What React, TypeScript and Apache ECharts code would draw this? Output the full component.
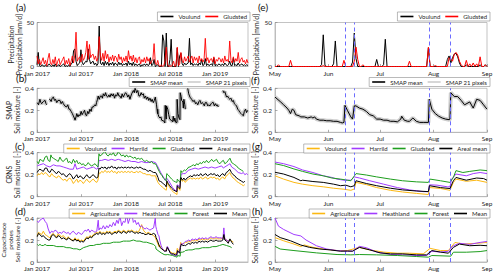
import React, { useEffect, useRef } from 'react';
import * as echarts from 'echarts';

const FONT = 'Lato, "Noto Sans", "DejaVu Sans", sans-serif';

// ---------- axes ----------
const leftTickDays = [0, 181, 365, 546, 730]; // days since 2017-01-01
const leftTickLabels = ['Jan 2017', 'Jul 2017', 'Jan 2018', 'Jul 2018', 'Jan 2019'];
const leftMaxDay = 865;
const rightTickDays = [0, 31, 61, 92, 123]; // days since 2018-05-01
const rightTickLabels = ['May', 'Jun', 'Jul', 'Aug', 'Sep'];
const rightMaxDay = 123;
const eventDays = [40.5, 46, 89.5, 101.5];

// ---------- (a) precipitation, 5-day samples from 2017-01-01 ----------
const precipStep = 5;
const aVoulund = [
  2, 16, 1, 0, 2, 1, 0, 2, 0, 1,
  3, 1, 0, 2, 0, 3, 0, 1, 2, 0,
  1, 2, 3, 0, 1, 0, 2, 0, 3, 4,
  18, 20, 6, 1, 3, 4, 19, 5, 2, 4,
  6, 5, 20, 8, 3, 5, 6, 2, 4, 1,
  3, 46, 4, 2, 5, 1, 6, 2, 5, 1,
  4, 2, 5, 1, 4, 3, 1, 5, 2, 4,
  1, 3, 2, 4, 1, 6, 2, 4, 1, 5,
  1, 3, 1, 2, 3, 0, 2, 1, 3, 1,
  3, 1, 2, 10, 1, 2, 8, 0, 1, 2,
  0, 0, 0, 36, 29, 0, 38, 0, 0, 8,
  31, 0, 0, 0, 0, 21, 0, 12, 15, 3,
  1, 4, 2, 3, 4, 32, 2, 4, 1, 3,
  2, 3, 1, 4, 2, 8, 1, 2, 9, 1,
  3, 1, 2, 3, 1, 10, 1, 2, 1, 3,
  2, 1, 3, 1, 4, 2, 1, 2, 6, 1,
  1, 10, 1, 2, 1, 4, 1, 2, 3, 1,
  2, 1, 2, 1,
];
const aGludsted = [
  12, 3, 8, 2, 6, 10, 3, 7, 1, 9,
  15, 4, 2, 8, 3, 11, 1, 6, 9, 2,
  5, 8, 11, 2, 7, 3, 9, 1, 6, 12,
  4, 13, 39, 6, 9, 11, 5, 14, 7, 10,
  16, 29, 8, 25, 10, 13, 14, 8, 12, 6,
  10, 34, 12, 7, 15, 6, 18, 9, 14, 5,
  11, 7, 13, 6, 12, 10, 5, 14, 8, 11,
  4, 10, 6, 12, 5, 18, 8, 12, 6, 13,
  5, 10, 4, 9, 11, 3, 8, 5, 10, 4,
  11, 6, 9, 3, 6, 8, 26, 4, 2, 7,
  1, 0, 2, 0, 1, 7, 22, 2, 0, 1,
  0, 2, 6, 0, 1, 22, 1, 3, 16, 7,
  4, 11, 6, 9, 12, 5, 9, 12, 4, 11,
  7, 10, 4, 12, 6, 9, 5, 8, 32, 6,
  10, 4, 8, 9, 5, 11, 3, 8, 6, 10,
  9, 5, 9, 4, 12, 6, 8, 5, 29, 7,
  4, 11, 5, 9, 6, 16, 4, 8, 10, 5,
  7, 3, 8, 4,
];

// ---------- (b) SMAP mean, [day since 2017-01-01, value] ----------
const bSmapMean: [number, number | null][] = [
  [1, 0.27], [6, 0.25], [12, 0.3], [16, 0.27], [19, 0.26], [26, 0.28], [33, 0.29], [37, 0.26], [40, 0.25], [44, null],
  [50, 0.3], [53, 0.3], [58, 0.28], [62, 0.31], [67, 0.32], [72, 0.29], [76, 0.3], [81, 0.27], [86, 0.29], [94, 0.29],
  [99, 0.26], [104, 0.28], [108, 0.26], [114, 0.24], [121, 0.23], [126, 0.25], [131, 0.21], [135, 0.21], [140, 0.19], [145, 0.17],
  [149, 0.15], [153, 0.13], [156, 0.11], [160, 0.14], [163, 0.17], [168, 0.14], [172, 0.16], [176, 0.15], [181, 0.19], [185, 0.16],
  [190, 0.18], [195, 0.2], [199, 0.16], [203, 0.15], [208, 0.19], [212, 0.17], [217, 0.21], [222, 0.19], [226, 0.23], [231, 0.23],
  [237, 0.25], [241, 0.24], [244, 0.27], [248, 0.3], [251, 0.33], [255, 0.3], [260, 0.33], [265, 0.33], [268, 0.31], [272, 0.35],
  [277, 0.33], [281, 0.36], [285, 0.33], [290, 0.32], [295, 0.34], [299, 0.32], [304, 0.35], [309, 0.33], [313, 0.35], [318, 0.31],
  [322, 0.34], [327, 0.33], [331, 0.36], [336, 0.33], [340, 0.33], [345, 0.31], [349, 0.35], [354, 0.32], [358, 0.34], [363, 0.36],
  [367, 0.35], [372, 0.32], [376, 0.34], [381, 0.3], [385, 0.33], [388, 0.35], [395, 0.38], [399, 0.36], [402, 0.4], [406, 0.38],
  [408, 0.36], [413, 0.38], [418, 0.33], [422, 0.33], [427, 0.36], [431, 0.34], [436, 0.35], [440, 0.31], [445, 0.33], [449, 0.3],
  [454, 0.32], [458, 0.29], [463, 0.31], [468, 0.28], [472, 0.3], [477, 0.27], [481, 0.29], [485, 0.32], [490, 0.25], [494, 0.17],
  [495, 0.21], [497, 0.16], [500, 0.14], [504, 0.13], [508, 0.14], [511, 0.11], [517, 0.105], [521, 0.1], [524, 0.085], [525.6, 0.245],
  [529, 0.14], [530, 0.12], [531, 0.24], [536, 0.21], [540, 0.16], [544, 0.12], [550, 0.11], [556, 0.095], [558.5, 0.146], [562, 0.1],
  [565, 0.13], [569, 0.09], [574, 0.09], [574.5, 0.3], [578, 0.17], [582, 0.13], [586, 0.115], [587, 0.36], [591, 0.325], [593, 0.29],
  [598, 0.276], [600, 0.22], [602, 0.3], [606, 0.25], [608, 0.21], [611, null], [618, 0.4], [622, 0.35], [627, 0.32], [634, 0.3],
  [639, 0.28], [645, 0.29], [650, 0.26], [654, 0.27], [659, 0.25], [664, 0.28], [668, 0.29], [673, 0.26], [677, 0.27], [682, 0.26],
  [686, 0.24], [690, 0.27], [695, 0.27], [700, 0.24], [704, 0.25], [709, 0.24], [714, 0.26], [718, 0.27], [723, 0.27], [727, 0.24],
  [732, 0.26], [736, 0.24], [740, 0.25], [743, 0.23], [748, null], [762, 0.38], [766, 0.36], [770, 0.37], [777, 0.32], [781, 0.33],
  [786, 0.31], [791, 0.3], [795, 0.31], [800, 0.28], [805, 0.29], [809, 0.26], [814, 0.25], [818, 0.24], [823, 0.21], [827, 0.2],
  [832, 0.18], [837, 0.17], [841, 0.16], [846, 0.15], [850, 0.19], [855, 0.21], [859, 0.18], [864, 0.2],
];

// ---------- (c) CRNS ----------
const cVoulund: [number, number][] = [
  [1, 0.19], [6, 0.21], [12, 0.2], [19, 0.22], [26, 0.2], [33, 0.22], [40, 0.21], [46, 0.19], [53, 0.18], [60, 0.21],
  [67, 0.19], [74, 0.18], [81, 0.17], [87, 0.19], [94, 0.18], [101, 0.16], [108, 0.15], [115, 0.16], [122, 0.14], [128, 0.16],
  [135, 0.17], [142, 0.15], [149, 0.12], [156, 0.14], [163, 0.16], [169, 0.13], [176, 0.15], [183, 0.14], [190, 0.12], [197, 0.14],
  [204, 0.16], [210, 0.14], [217, 0.13], [224, 0.15], [231, 0.16], [238, 0.14], [245, 0.13], [250, 0.15], [254, 0.22], [258, 0.21],
  [265, 0.23], [272, 0.22], [279, 0.24], [286, 0.22], [292, 0.23], [299, 0.22], [306, 0.24], [313, 0.22], [320, 0.23], [327, 0.21],
  [333, 0.23], [340, 0.22], [347, 0.23], [354, 0.22], [361, 0.23], [367, 0.22], [374, 0.23], [381, 0.22], [388, 0.23], [395, 0.22],
  [402, 0.22], [408, 0.23], [415, 0.22], [422, 0.23], [429, 0.22], [436, 0.21], [443, 0.21], [449, 0.2], [456, 0.2], [463, 0.2],
  [470, 0.19], [478, 0.19], [486, 0.19], [490, 0.16], [496, 0.13], [501, 0.114], [507, 0.1], [513, 0.09], [519, 0.077], [525, 0.068],
  [529, 0.058], [531, 0.07], [532, 0.13], [538, 0.11], [544, 0.083], [552, 0.058], [559, 0.043], [567, 0.03], [574, 0.02], [575, 0.083],
  [581, 0.075], [586, 0.058], [588, 0.13], [590, 0.16], [596, 0.14], [602, 0.15], [608, 0.13], [615, 0.15], [622, 0.16], [629, 0.17],
  [636, 0.16], [643, 0.17], [650, 0.16], [657, 0.17], [664, 0.16], [671, 0.18], [678, 0.16], [685, 0.17], [692, 0.18], [699, 0.16],
  [706, 0.17], [713, 0.18], [720, 0.17], [727, 0.18], [734, 0.16], [741, 0.17], [748, 0.15], [755, 0.17], [762, 0.18], [769, 0.16],
  [776, 0.19], [783, 0.2], [790, 0.22], [797, 0.19], [804, 0.17], [811, 0.16], [818, 0.14], [825, 0.13], [832, 0.12], [839, 0.11],
  [846, 0.1], [852, 0.11],
];
const cHarrild: [number, number][] = [
  [1, 0.28], [12, 0.29], [26, 0.3], [40, 0.28], [53, 0.27], [67, 0.29], [81, 0.28], [94, 0.28], [108, 0.27], [122, 0.26],
  [135, 0.25], [149, 0.25], [156, 0.3], [163, 0.25], [176, 0.26], [190, 0.27], [204, 0.25], [217, 0.26], [231, 0.27], [245, 0.25],
  [250, 0.26], [254, 0.33], [265, 0.33], [279, 0.34], [292, 0.33], [306, 0.34], [320, 0.33], [333, 0.34], [347, 0.33], [361, 0.32],
  [374, 0.33], [388, 0.32], [402, 0.32], [415, 0.31], [429, 0.32], [443, 0.31], [456, 0.31], [470, 0.32], [486, 0.31], [496, 0.27],
  [507, 0.22], [518, 0.18], [525, 0.15], [531, 0.17], [540, 0.145], [556, 0.083], [571, 0.046], [575, 0.108], [586, 0.09], [588, 0.16],
  [591, 0.206], [600, 0.21], [608, 0.21], [620, 0.24], [634, 0.25], [648, 0.26], [661, 0.25], [675, 0.26], [689, 0.27], [702, 0.26],
  [716, 0.27], [730, 0.26], [743, 0.27], [757, 0.28], [764, 0.26], [770, 0.27], [784, 0.29], [791, 0.3], [798, 0.27], [811, 0.25],
  [825, 0.22], [839, 0.21], [846, 0.22], [852, 0.2], [859, 0.21], [864, 0.2],
];
const cGludsted: [number, number][] = [
  [1, 0.32], [6, 0.3], [12, 0.34], [19, 0.33], [26, 0.32], [33, 0.36], [40, 0.37], [46, 0.33], [53, 0.32], [57, 0.38],
  [60, 0.36], [67, 0.35], [74, 0.34], [81, 0.33], [87, 0.32], [94, 0.36], [101, 0.33], [108, 0.32], [115, 0.34], [122, 0.35],
  [128, 0.31], [135, 0.32], [142, 0.3], [149, 0.34], [156, 0.31], [163, 0.33], [169, 0.3], [176, 0.31], [183, 0.29], [190, 0.3],
  [197, 0.28], [204, 0.29], [210, 0.31], [217, 0.29], [224, 0.28], [231, 0.29], [238, 0.3], [245, 0.28], [250, 0.27], [254, 0.39],
  [258, 0.37], [265, 0.38], [272, 0.4], [279, 0.41], [286, 0.38], [292, 0.37], [299, 0.39], [306, 0.38], [313, 0.4], [320, 0.37],
  [327, 0.38], [333, 0.41], [340, 0.39], [347, 0.37], [354, 0.38], [361, 0.36], [367, 0.38], [374, 0.36], [381, 0.37], [388, 0.36],
  [395, 0.35], [402, 0.36], [408, 0.34], [415, 0.35], [422, 0.34], [429, 0.35], [436, 0.33], [443, 0.32], [449, 0.33], [456, 0.32],
  [463, 0.31], [470, 0.32], [477, 0.3], [485, 0.3], [490, 0.283], [496, 0.252], [501, 0.23], [507, 0.206], [513, 0.19], [518, 0.17],
  [523, 0.16], [527, 0.15], [529, 0.145], [532, 0.21], [538, 0.197], [544, 0.18], [552, 0.16], [559, 0.145], [567, 0.135], [574, 0.13],
  [575, 0.16], [581, 0.145], [586.5, 0.13], [588.5, 0.175], [590, 0.237], [594, 0.22], [598, 0.23], [604, 0.243], [608, 0.237], [615, 0.25],
  [622, 0.27], [627, 0.27], [634, 0.28], [641, 0.29], [648, 0.28], [654, 0.3], [661, 0.29], [668, 0.31], [675, 0.3], [682, 0.32],
  [689, 0.31], [695, 0.33], [702, 0.31], [709, 0.32], [716, 0.34], [723, 0.32], [730, 0.33], [736, 0.34], [743, 0.31], [750, 0.3],
  [757, 0.32], [764, 0.33], [770, 0.3], [777, 0.31], [784, 0.33], [791, 0.35], [798, 0.31], [805, 0.3], [811, 0.29], [818, 0.28],
  [825, 0.26], [832, 0.25], [839, 0.24], [846, 0.23],
];
const cArealMean: [number, number][] = [
  [1, 0.22], [6, 0.24], [12, 0.25], [19, 0.24], [26, 0.23], [33, 0.26], [40, 0.26], [46, 0.23], [53, 0.22], [60, 0.25],
  [67, 0.24], [74, 0.22], [81, 0.21], [87, 0.23], [94, 0.22], [101, 0.2], [108, 0.21], [115, 0.19], [122, 0.18], [128, 0.2],
  [135, 0.21], [142, 0.19], [149, 0.16], [156, 0.18], [163, 0.2], [169, 0.17], [176, 0.19], [183, 0.18], [190, 0.16], [197, 0.18],
  [204, 0.2], [210, 0.18], [217, 0.17], [224, 0.19], [231, 0.2], [238, 0.18], [245, 0.17], [250, 0.18], [254, 0.26], [258, 0.25],
  [265, 0.27], [272, 0.26], [279, 0.27], [286, 0.25], [292, 0.27], [299, 0.26], [306, 0.28], [313, 0.26], [320, 0.27], [327, 0.25],
  [333, 0.27], [340, 0.26], [347, 0.27], [354, 0.26], [361, 0.27], [367, 0.26], [374, 0.27], [381, 0.26], [388, 0.27], [395, 0.26],
  [402, 0.26], [408, 0.27], [415, 0.26], [422, 0.27], [429, 0.26], [436, 0.25], [443, 0.25], [449, 0.24], [456, 0.23], [463, 0.24],
  [470, 0.23], [478, 0.22], [486, 0.22], [490, 0.206], [496, 0.175], [500, 0.145], [507, 0.138], [513, 0.13], [519, 0.114], [526, 0.105],
  [529, 0.09], [531, 0.1], [532, 0.145], [538, 0.12], [544, 0.1], [552, 0.077], [559, 0.062], [567, 0.052], [574, 0.046], [575, 0.1],
  [581, 0.083], [586, 0.074], [588, 0.145], [590, 0.175], [596, 0.15], [602, 0.17], [608, 0.15], [615, 0.17], [622, 0.18], [629, 0.19],
  [636, 0.18], [643, 0.2], [650, 0.19], [657, 0.2], [664, 0.19], [671, 0.21], [678, 0.19], [685, 0.2], [692, 0.21], [699, 0.19],
  [706, 0.2], [713, 0.21], [720, 0.2], [727, 0.21], [734, 0.19], [741, 0.2], [748, 0.18], [755, 0.2], [762, 0.21], [769, 0.19],
  [776, 0.22], [783, 0.23], [790, 0.25], [797, 0.22], [804, 0.2], [811, 0.19], [818, 0.17], [825, 0.16], [832, 0.15], [839, 0.14],
  [846, 0.13], [852, 0.14],
];

// ---------- (d) capacitance probes ----------
const dAgriculture: [number, number][] = [
  [1, 0.24], [6, 0.27], [12, 0.26], [19, 0.25], [26, 0.28], [33, 0.25], [40, 0.24], [46, 0.23], [53, 0.22], [60, 0.25],
  [67, 0.26], [74, 0.24], [81, 0.23], [87, 0.26], [94, 0.24], [101, 0.23], [108, 0.24], [115, 0.22], [122, 0.21], [128, 0.23],
  [135, 0.21], [142, 0.2], [149, 0.2], [156, 0.22], [163, 0.2], [169, 0.21], [176, 0.19], [183, 0.2], [190, 0.19], [197, 0.21],
  [204, 0.23], [210, 0.22], [217, 0.24], [224, 0.23], [231, 0.25], [238, 0.26], [245, 0.27], [251, 0.26], [258, 0.28], [265, 0.26],
  [272, 0.27], [279, 0.26], [286, 0.28], [292, 0.27], [299, 0.28], [306, 0.26], [313, 0.27], [320, 0.28], [327, 0.27], [333, 0.29],
  [340, 0.28], [347, 0.27], [354, 0.29], [361, 0.28], [367, 0.27], [374, 0.29], [381, 0.28], [388, 0.29], [395, 0.28], [402, 0.27],
  [408, 0.28], [415, 0.27], [422, 0.3], [429, 0.34], [436, 0.29], [443, 0.27], [449, 0.26], [456, 0.27], [463, 0.26], [470, 0.25],
  [478, 0.24], [485, 0.222], [490, 0.193], [496, 0.163], [500, 0.14], [502, 0.155], [507, 0.133], [513, 0.118], [521, 0.104], [527, 0.104],
  [534, 0.133], [540, 0.11], [548, 0.09], [556, 0.08], [563, 0.08], [571, 0.074], [575, 0.124], [581, 0.104], [585, 0.104], [589, 0.178],
  [594, 0.163], [602, 0.17], [608, 0.178], [615, 0.18], [622, 0.19], [629, 0.18], [636, 0.2], [643, 0.19], [650, 0.2], [657, 0.19],
  [664, 0.21], [671, 0.2], [678, 0.21], [685, 0.2], [692, 0.21], [699, 0.2], [706, 0.21], [713, 0.22], [720, 0.21], [727, 0.21],
  [734, 0.22], [741, 0.21], [748, 0.21], [755, 0.21], [762, 0.22], [766, 0.24], [770, 0.21], [777, 0.2], [784, 0.19], [791, 0.2],
  [798, 0.19], [805, 0.18],
];
const dHeathland: [number, number][] = [
  [1, 0.37], [6, 0.36], [12, 0.38], [19, 0.39], [26, 0.4], [33, 0.37], [40, 0.35], [46, 0.3], [53, 0.26], [60, 0.28],
  [67, 0.27], [74, 0.29], [81, 0.28], [87, 0.26], [94, 0.27], [101, 0.26], [108, 0.28], [115, 0.27], [122, 0.26], [128, 0.27],
  [135, 0.25], [142, 0.27], [149, 0.28], [156, 0.26], [163, 0.25], [169, 0.27], [176, 0.26], [183, 0.25], [190, 0.27], [197, 0.29],
  [204, 0.28], [210, 0.3], [217, 0.27], [224, 0.29], [231, 0.28], [238, 0.27], [245, 0.28], [251, 0.38], [254, 0.29], [258, 0.31],
  [265, 0.3], [272, 0.33], [279, 0.3], [286, 0.33], [292, 0.31], [299, 0.34], [306, 0.32], [313, 0.36], [320, 0.33], [327, 0.38],
  [333, 0.35], [340, 0.42], [347, 0.33], [354, 0.37], [361, 0.36], [367, 0.44], [374, 0.35], [381, 0.4], [388, 0.45], [395, 0.36],
  [402, 0.38], [408, 0.34], [415, 0.36], [422, 0.32], [429, 0.33], [436, 0.31], [443, 0.3], [449, 0.31], [456, 0.3], [463, 0.29],
  [470, 0.3], [478, 0.31], [485, 0.4], [487, 0.326], [490, 0.296], [496, 0.25], [500, 0.237], [503, 0.2], [509, 0.148], [515, 0.118],
  [521, 0.104], [527, 0.098], [530, 0.1], [534, 0.142], [538, 0.13], [544, 0.09], [552, 0.068], [559, 0.065], [567, 0.059], [573, 0.059],
  [576, 0.098], [581, 0.09], [585, 0.098], [588, 0.148], [592, 0.17], [598, 0.16], [604, 0.178], [608, 0.187], [615, 0.19], [622, 0.2],
  [629, 0.19], [636, 0.21], [643, 0.2], [650, 0.21], [657, 0.2], [664, 0.22], [671, 0.21], [678, 0.22], [685, 0.21], [692, 0.22],
  [699, 0.21], [706, 0.22], [713, 0.23], [720, 0.22], [727, 0.22], [734, 0.23], [741, 0.22], [748, 0.22], [755, 0.22], [762, 0.21],
  [766, 0.31], [770, 0.21], [777, 0.2], [784, 0.19], [791, 0.2],
];
const dForest: [number, number][] = [
  [1, 0.16], [6, 0.15], [12, 0.16], [19, 0.15], [26, 0.15], [33, 0.16], [40, 0.15], [53, 0.15], [67, 0.15], [81, 0.14],
  [94, 0.14], [108, 0.14], [122, 0.13], [135, 0.13], [149, 0.12], [163, 0.12], [176, 0.11], [190, 0.13], [204, 0.14], [217, 0.15],
  [231, 0.15], [245, 0.16], [258, 0.16], [272, 0.17], [286, 0.17], [299, 0.17], [313, 0.18], [327, 0.18], [340, 0.18], [354, 0.19],
  [367, 0.19], [381, 0.19], [395, 0.2], [408, 0.19], [422, 0.19], [436, 0.18], [449, 0.18], [463, 0.17], [478, 0.16], [486, 0.142],
  [488, 0.118], [496, 0.104], [509, 0.083], [521, 0.068], [529, 0.065], [534, 0.068], [544, 0.065], [556, 0.059], [567, 0.05], [574, 0.044],
  [576, 0.059], [587, 0.053], [588, 0.089], [596, 0.089], [604, 0.095], [608, 0.104], [622, 0.11], [636, 0.11], [650, 0.12], [664, 0.12],
  [678, 0.13], [692, 0.13], [706, 0.13], [720, 0.14], [734, 0.14], [748, 0.15], [762, 0.16], [777, 0.15], [791, 0.14], [798, 0.13],
];
const dMean: [number, number][] = [
  [1, 0.23], [6, 0.26], [12, 0.25], [19, 0.23], [26, 0.24], [33, 0.22], [40, 0.21], [46, 0.2], [53, 0.2], [60, 0.24],
  [67, 0.25], [74, 0.23], [81, 0.22], [87, 0.24], [94, 0.23], [101, 0.21], [108, 0.22], [115, 0.21], [122, 0.2], [128, 0.22],
  [135, 0.21], [142, 0.2], [149, 0.19], [156, 0.21], [163, 0.19], [169, 0.2], [176, 0.18], [183, 0.19], [190, 0.18], [197, 0.2],
  [204, 0.22], [210, 0.21], [217, 0.23], [224, 0.22], [231, 0.24], [238, 0.25], [245, 0.26], [251, 0.25], [258, 0.27], [265, 0.25],
  [272, 0.26], [279, 0.25], [286, 0.27], [292, 0.26], [299, 0.27], [306, 0.25], [313, 0.26], [320, 0.27], [327, 0.26], [333, 0.28],
  [340, 0.27], [347, 0.26], [354, 0.28], [361, 0.27], [367, 0.26], [374, 0.28], [381, 0.27], [388, 0.28], [395, 0.27], [402, 0.26],
  [408, 0.27], [415, 0.26], [422, 0.27], [429, 0.26], [436, 0.26], [443, 0.25], [449, 0.25], [456, 0.26], [463, 0.25], [470, 0.25],
  [478, 0.26], [485, 0.25], [488, 0.222], [494, 0.193], [500, 0.154], [505, 0.133], [511, 0.118], [517, 0.11], [523, 0.098], [527, 0.1],
  [530, 0.098], [534, 0.133], [540, 0.11], [546, 0.083], [552, 0.074], [559, 0.074], [567, 0.065], [573, 0.065], [576, 0.104], [581, 0.09],
  [585, 0.08], [588, 0.133], [592, 0.163], [598, 0.148], [604, 0.152], [608, 0.148], [615, 0.16], [622, 0.17], [629, 0.16], [636, 0.18],
  [643, 0.17], [650, 0.18], [657, 0.17], [664, 0.19], [671, 0.18], [678, 0.19], [685, 0.18], [692, 0.19], [699, 0.18], [706, 0.19],
  [713, 0.2], [720, 0.19], [727, 0.19], [734, 0.2], [741, 0.19], [748, 0.19], [755, 0.19], [762, 0.2], [766, 0.25], [770, 0.2],
  [777, 0.19], [784, 0.17], [791, 0.21], [798, 0.18], [805, 0.16],
];

// ---------- (e) precipitation, daily from 2018-05-01 ----------
const eVoulund = [
  0, 0, 0, 0, 0, 0, 0, 0, 0, 0,
  0, 0, 0, 0, 0, 0, 0, 0, 0, 0,
  0, 0, 0, 0, 0, 0, 0, 2, 36, 1,
  0, 0, 0, 0, 3, 29, 0, 0, 0, 0,
  0, 0, 0, 0, 0, 5, 38, 9, 0, 0,
  0, 0, 0, 0, 0, 0, 0, 0, 0, 8,
  0, 0, 0, 2, 31, 0, 0, 0, 0, 0,
  0, 0, 0, 0, 0, 0, 0, 0, 0, 0,
  0, 0, 0, 0, 0, 0, 0, 0, 0, 21,
  0, 0, 0, 0, 0, 0, 0, 0, 0, 0,
  8, 12, 4, 10, 14, 15, 11, 4, 0, 0,
  0, 2, 0, 0, 0, 0, 0, 0, 0, 2,
  0, 0, 2, 0,
];
const eGludsted = [
  0, 0, 2, 0, 0, 0, 0, 0, 0, 7,
  0, 0, 0, 0, 0, 0, 0, 0, 0, 0,
  0, 0, 0, 0, 0, 0, 0, 0, 1, 0,
  0, 0, 0, 0, 0, 0, 0, 0, 0, 0,
  7, 0, 0, 0, 0, 0, 6, 22, 8, 0,
  0, 2, 0, 0, 0, 0, 0, 0, 0, 0,
  0, 0, 0, 0, 0, 0, 0, 0, 0, 0,
  0, 0, 0, 0, 0, 0, 0, 0, 6, 0,
  0, 0, 0, 0, 0, 0, 0, 0, 0, 22,
  0, 0, 0, 1, 0, 0, 0, 0, 0, 0,
  0, 10, 8, 6, 14, 16, 13, 6, 2, 0,
  0, 7, 0, 3, 0, 4, 0, 3, 0, 11,
  0, 0, 2, 0,
];

// ---------- (f) SMAP mean, [day since 2018-05-01, value] ----------
const fSmapMean: [number, number][] = [
  [0, 0.32], [3, 0.28], [5, 0.25], [7, 0.22], [8, 0.2], [9, 0.17], [10, 0.21], [11, 0.2], [12, 0.16], [14, 0.15],
  [15, 0.14], [17, 0.14], [19, 0.13], [21, 0.14], [22, 0.13], [23, 0.14], [24, 0.12], [26, 0.11], [28, 0.11], [30, 0.105],
  [32, 0.105], [34, 0.1], [36, 0.1], [38, 0.09], [39, 0.085], [40, 0.09], [40.6, 0.245], [42, 0.2], [44, 0.14], [45, 0.12],
  [46, 0.24], [47, 0.24], [49, 0.22], [51, 0.21], [53, 0.19], [55, 0.16], [57, 0.15], [59, 0.12], [61, 0.12], [63, 0.11],
  [65, 0.11], [67, 0.1], [69, 0.1], [71, 0.095], [73, 0.12], [73.5, 0.146], [75, 0.11], [77, 0.1], [78, 0.1], [80, 0.13],
  [82, 0.1], [84, 0.09], [86, 0.09], [89, 0.09], [89.5, 0.3], [91, 0.21], [93, 0.17], [95, 0.146], [97, 0.13], [99, 0.12],
  [101, 0.115], [101.5, 0.12], [102, 0.36], [104, 0.325], [106, 0.325], [108, 0.29], [110, 0.25], [113, 0.276], [115, 0.22], [117, 0.3],
  [119, 0.29], [121, 0.25], [123, 0.21],
];

// ---------- (g) CRNS ----------
const gVoulund: [number, number][] = [
  [0, 0.19], [5, 0.16], [11, 0.13], [16, 0.114], [22, 0.1], [28, 0.09], [34, 0.077], [40, 0.068], [44, 0.058], [46, 0.07],
  [47, 0.13], [53, 0.11], [59, 0.083], [67, 0.058], [74, 0.043], [82, 0.03], [89, 0.02], [89.6, 0.083], [96, 0.075], [101.5, 0.058],
  [103.5, 0.13], [105, 0.16], [111, 0.14], [117, 0.15], [123, 0.13],
];
const gHarrild: [number, number][] = [
  [0, 0.315], [5, 0.3], [11, 0.274], [16, 0.243], [22, 0.22], [28, 0.19], [33, 0.175], [36, 0.16], [40, 0.15], [44, 0.15],
  [46, 0.18], [49, 0.17], [55, 0.145], [63, 0.114], [71, 0.083], [78, 0.062], [86, 0.046], [89, 0.046], [89.6, 0.108], [94, 0.105],
  [100, 0.09], [101.5, 0.09], [102.5, 0.16], [105, 0.206], [111, 0.19], [115, 0.21], [119, 0.22], [123, 0.21],
];
const gGludsted: [number, number][] = [
  [0, 0.3], [5, 0.283], [11, 0.252], [16, 0.23], [22, 0.206], [28, 0.19], [33, 0.17], [38, 0.16], [42, 0.15], [44, 0.145],
  [47, 0.21], [53, 0.197], [59, 0.18], [67, 0.16], [74, 0.145], [82, 0.135], [89, 0.13], [90, 0.16], [96, 0.145], [101.5, 0.13],
  [103.5, 0.175], [105, 0.237], [109, 0.22], [113, 0.23], [119, 0.243], [123, 0.237],
];
const gArealMean: [number, number][] = [
  [0, 0.222], [5, 0.206], [11, 0.175], [15, 0.145], [16, 0.15], [22, 0.138], [28, 0.13], [34, 0.114], [38, 0.1], [41, 0.105],
  [44, 0.09], [46, 0.1], [47, 0.145], [53, 0.12], [59, 0.1], [67, 0.077], [74, 0.062], [82, 0.052], [89, 0.046], [89.6, 0.1],
  [96, 0.083], [101.5, 0.074], [103.5, 0.145], [105, 0.175], [111, 0.15], [117, 0.17], [121, 0.165], [123, 0.15],
];

// ---------- (h) capacitance probes ----------
const hAgriculture: [number, number][] = [
  [0, 0.222], [5, 0.193], [11, 0.163], [15, 0.14], [17, 0.155], [22, 0.133], [28, 0.118], [36, 0.104], [42, 0.104], [49, 0.133],
  [55, 0.11], [63, 0.09], [71, 0.08], [78, 0.08], [86, 0.074], [90, 0.124], [96, 0.104], [100.6, 0.104], [104.4, 0.178], [109, 0.163],
  [117, 0.17], [123, 0.178],
];
const hHeathland: [number, number][] = [
  [0, 0.4], [2, 0.326], [5, 0.296], [11, 0.25], [15, 0.237], [18, 0.2], [24, 0.148], [30, 0.118], [36, 0.104], [42, 0.098],
  [45, 0.1], [49, 0.142], [53, 0.13], [59, 0.09], [67, 0.068], [74, 0.065], [82, 0.059], [88, 0.059], [91, 0.098], [96, 0.09],
  [100.6, 0.098], [103.5, 0.148], [107, 0.17], [113, 0.16], [119, 0.178], [123, 0.187],
];
const hForest: [number, number][] = [
  [0, 0.142], [3, 0.118], [11, 0.104], [24, 0.083], [36, 0.068], [44, 0.065], [49, 0.068], [59, 0.065], [71, 0.059], [82, 0.05],
  [89, 0.044], [91, 0.059], [102, 0.053], [103.5, 0.089], [111, 0.089], [119, 0.095], [123, 0.104],
];
const hMean: [number, number][] = [
  [0, 0.25], [3, 0.222], [9, 0.193], [15, 0.154], [20, 0.133], [26, 0.118], [32, 0.11], [38, 0.098], [42, 0.1], [45, 0.098],
  [49, 0.133], [55, 0.11], [61, 0.083], [67, 0.074], [74, 0.074], [82, 0.065], [88, 0.065], [91, 0.104], [96, 0.09], [100.6, 0.08],
  [103.5, 0.133], [107, 0.163], [113, 0.148], [119, 0.152], [123, 0.148],
];

// ---------- styling ----------
const C_BLACK = '#000000';
const C_RED = '#ff0000';
const C_ORANGE = '#fcb812';
const C_PURPLE = '#a13cff';
const C_GREEN = '#1e9e1e';
const C_GRAY = '#cdcdcd';
const C_EVENT = '#6c6cff';
const TXT = '#262626';

type Panel = {
  label: string;
  side: 'L' | 'R';
  row: number;
  kind: 'precip' | 'soil';
  yName: string;
  nameGap: number;
  nameSize: number;
  nameLine: number;
  labelPos: [number, number];
};

const panels: Panel[] = [
  { label: '(a)', side: 'L', row: 0, kind: 'precip', yName: 'Precipitation\nPrecipitation [mm/d]', nameGap: 11.5, nameSize: 6.8, nameLine: 7.8, labelPos: [16, 2] },
  { label: '(b)', side: 'L', row: 1, kind: 'soil', yName: 'SMAP\nSoil moisture [-]', nameGap: 11.5, nameSize: 6.8, nameLine: 7.8, labelPos: [16, 73] },
  { label: '(c)', side: 'L', row: 2, kind: 'soil', yName: 'CRNS\nSoil moisture [-]', nameGap: 11.5, nameSize: 6.8, nameLine: 7.8, labelPos: [15, 141] },
  { label: '(d)', side: 'L', row: 3, kind: 'soil', yName: 'Capacitance\nprobes\nSoil moisture [-]', nameGap: 10.5, nameSize: 6.5, nameLine: 7.2, labelPos: [15, 206] },
  { label: '(e)', side: 'R', row: 0, kind: 'precip', yName: 'Precipitation [mm/d]', nameGap: 15, nameSize: 6.8, nameLine: 7.8, labelPos: [258, 2] },
  { label: '(f)', side: 'R', row: 1, kind: 'soil', yName: 'Soil moisture [-]', nameGap: 8, nameSize: 6.8, nameLine: 7.8, labelPos: [251, 75] },
  { label: '(g)', side: 'R', row: 2, kind: 'soil', yName: 'Soil moisture [-]', nameGap: 8, nameSize: 6.8, nameLine: 7.8, labelPos: [252, 141] },
  { label: '(h)', side: 'R', row: 3, kind: 'soil', yName: 'Soil moisture [-]', nameGap: 8, nameSize: 6.8, nameLine: 7.8, labelPos: [252, 206] },
];

const ROW_TOP = [22.5, 88.3, 152.7, 218];
const ROW_H = 44;
const LEFT_X = 37;
const LEFT_W = 211;
const RIGHT_X = 275;
const RIGHT_W = 212;

function line(name: string, data: any[], color: string, idx: number, width = 1, z = 2, extra: any = {}) {
  return {
    type: 'line',
    name,
    data,
    xAxisIndex: idx,
    yAxisIndex: idx,
    showSymbol: false,
    symbol: 'none',
    connectNulls: false,
    silent: true,
    z,
    color,
    lineStyle: { color, width },
    ...extra,
  };
}

function legend(right: number, top: number, items: [string, string][]) {
  return {
    right,
    top,
    orient: 'horizontal',
    icon: 'rect',
    itemWidth: 13,
    itemHeight: 1.6,
    itemGap: 5,
    padding: [1, 3, 1, 3],
    borderColor: '#8c8c8c',
    borderWidth: 0.6,
    backgroundColor: '#ffffff',
    selectedMode: false,
    itemStyle: { borderWidth: 0 },
    textStyle: { fontSize: 6, fontFamily: FONT, color: TXT, lineHeight: 7 },
    data: items.map(([n, c]) => ({ name: n, itemStyle: { color: c, borderWidth: 0 } })),
  };
}

function buildOption() {
  const grid: any[] = [];
  const xAxis: any[] = [];
  const yAxis: any[] = [];
  panels.forEach((p) => {
    const isL = p.side === 'L';
    grid.push({
      left: isL ? LEFT_X : RIGHT_X,
      top: ROW_TOP[p.row],
      width: isL ? LEFT_W : RIGHT_W,
      height: ROW_H,
      show: true,
      borderColor: '#b4b4b4',
      borderWidth: 0.8,
      backgroundColor: 'transparent',
      outerBoundsMode: 'none',
    });
    const tickDays = isL ? leftTickDays : rightTickDays;
    const tickLabels = isL ? leftTickLabels : rightTickLabels;
    xAxis.push({
      type: 'value',
      gridIndex: grid.length - 1,
      min: 0,
      max: isL ? leftMaxDay : rightMaxDay,
      splitLine: { show: false },
      axisLine: { show: true, lineStyle: { color: '#b4b4b4', width: 0.8 } },
      axisTick: { show: true, inside: true, length: 2.5, customValues: tickDays, lineStyle: { color: '#8a8a8a', width: 0.7 } },
      axisLabel: {
        customValues: tickDays,
        fontSize: 6.5,
        fontFamily: FONT,
        color: TXT,
        margin: 3,
        hideOverlap: false,
        formatter: (v: number) => {
          const k = tickDays.indexOf(Math.round(v));
          return k >= 0 ? tickLabels[k] : '';
        },
      },
    });
    const precip = p.kind === 'precip';
    yAxis.push({
      type: 'value',
      gridIndex: grid.length - 1,
      min: 0,
      max: precip ? 50 : 0.4,
      interval: precip ? 50 : 0.2,
      splitLine: { show: false },
      axisLine: { show: true, lineStyle: { color: '#b4b4b4', width: 0.8 } },
      axisTick: { show: true, inside: true, length: 2.5, lineStyle: { color: '#8a8a8a', width: 0.7 } },
      axisLabel: { fontSize: 6.5, fontFamily: FONT, color: TXT, margin: 3 },
      name: p.yName,
      nameLocation: 'middle',
      nameRotate: 90,
      nameGap: p.nameGap,
      nameTextStyle: { fontSize: p.nameSize, fontFamily: FONT, color: TXT, lineHeight: p.nameLine },
    });
  });

  const ev = {
    markLine: {
      silent: true,
      symbol: 'none',
      label: { show: false },
      lineStyle: { color: C_EVENT, type: [4, 3], width: 1 },
      data: eventDays.map((d) => ({ xAxis: d })),
    },
  };

  const series: any[] = [
    // (a)
    line('Voulund', aVoulund.map((v, i) => [i * precipStep, v]), C_BLACK, 0, 1, 2),
    line('Gludsted', aGludsted.map((v, i) => [i * precipStep, v]), C_RED, 0, 0.9, 3),
    // (b)
    line('SMAP 21 pixels', bSmapMean, C_GRAY, 1, 4, 2),
    line('SMAP mean', bSmapMean, C_BLACK, 1, 1, 3),
    // (c)
    line('Voulund', cVoulund, C_ORANGE, 2, 1, 2),
    line('Harrild', cHarrild, C_PURPLE, 2, 1, 3),
    line('Gludsted', cGludsted, C_GREEN, 2, 1, 4),
    line('Areal mean', cArealMean, C_BLACK, 2, 1, 5),
    // (d)
    line('Agriculture', dAgriculture, C_ORANGE, 3, 1, 2),
    line('Heathland', dHeathland, C_PURPLE, 3, 1, 3),
    line('Forest', dForest, C_GREEN, 3, 1, 4),
    line('Mean', dMean, C_BLACK, 3, 1, 5),
    // (e)
    line('Voulund', eVoulund.map((v, i) => [i, v]), C_BLACK, 4, 1, 2, ev),
    line('Gludsted', eGludsted.map((v, i) => [i, v]), C_RED, 4, 1, 3),
    // (f)
    line('SMAP 21 pixels', fSmapMean, C_GRAY, 5, 4, 2, ev),
    line('SMAP mean', fSmapMean, C_BLACK, 5, 1, 3),
    // (g)
    line('Voulund', gVoulund, C_ORANGE, 6, 1, 2, ev),
    line('Harrild', gHarrild, C_PURPLE, 6, 1, 3),
    line('Gludsted', gGludsted, C_GREEN, 6, 1, 4),
    line('Areal mean', gArealMean, C_BLACK, 6, 1, 5),
    // (h)
    line('Agriculture', hAgriculture, C_ORANGE, 7, 1, 2, ev),
    line('Heathland', hHeathland, C_PURPLE, 7, 1, 3),
    line('Forest', hForest, C_GREEN, 7, 1, 4),
    line('Mean', hMean, C_BLACK, 7, 1, 5),
  ];

  const legends = [
    legend(250, 12, [['Voulund', C_BLACK], ['Gludsted', C_RED]]),
    legend(250, 77.5, [['SMAP mean', C_BLACK], ['SMAP 21 pixels', C_GRAY]]),
    legend(250, 144, [['Voulund', C_ORANGE], ['Harrild', C_PURPLE], ['Gludsted', C_GREEN], ['Areal mean', C_BLACK]]),
    legend(250, 209, [['Agriculture', C_ORANGE], ['Heathland', C_PURPLE], ['Forest', C_GREEN], ['Mean', C_BLACK]]),
    legend(10, 12, [['Voulund', C_BLACK], ['Gludsted', C_RED]]),
    legend(10, 77.5, [['SMAP mean', C_BLACK], ['SMAP 21 pixels', C_GRAY]]),
    legend(10, 144, [['Voulund', C_ORANGE], ['Harrild', C_PURPLE], ['Gludsted', C_GREEN], ['Areal mean', C_BLACK]]),
    legend(10, 209, [['Agriculture', C_ORANGE], ['Heathland', C_PURPLE], ['Forest', C_GREEN], ['Mean', C_BLACK]]),
  ];

  const graphic = panels.map((p) => ({
    type: 'text',
    left: p.labelPos[0],
    top: p.labelPos[1],
    style: { text: p.label, fontSize: 10, fontFamily: FONT, fill: '#111' },
  }));

  return {
    animation: false,
    backgroundColor: '#ffffff',
    grid,
    xAxis,
    yAxis,
    series,
    legend: legends,
    graphic,
  };
}

export default function App() {
  const ref = useRef<HTMLDivElement>(null);
  useEffect(() => {
    if (!ref.current) return;
    const chart = echarts.init(ref.current, undefined, { renderer: 'svg' });
    chart.setOption(buildOption() as any);
    return () => chart.dispose();
  }, []);
  return (
    <div
      ref={ref}
      style={{ position: 'fixed', left: 0, top: 0, width: 500, height: 276, background: '#fff' }}
    />
  );
}
